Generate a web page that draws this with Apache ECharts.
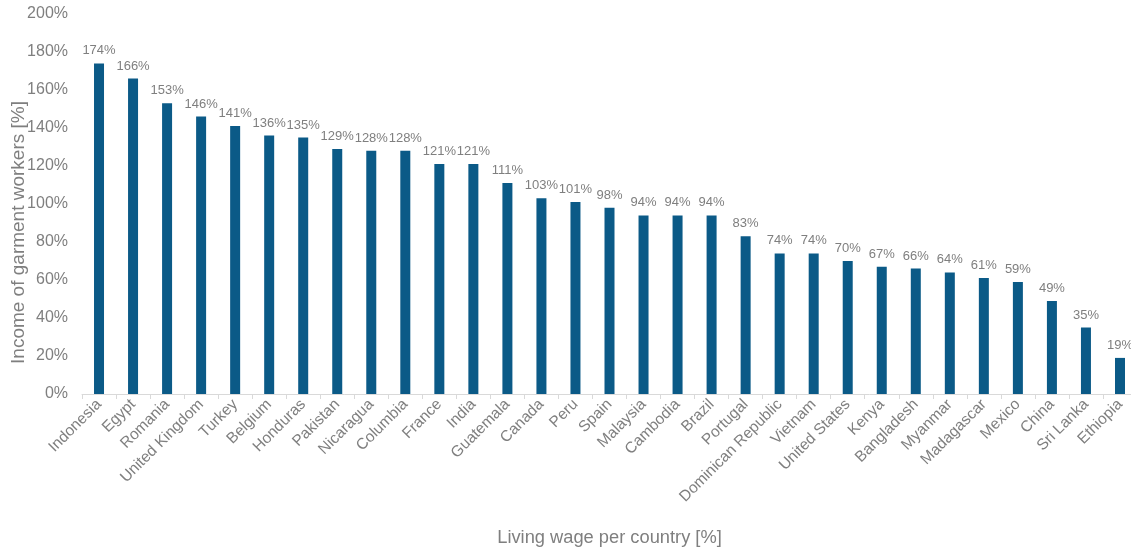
<!DOCTYPE html>
<html>
<head>
<meta charset="utf-8">
<script src="https://cdn.jsdelivr.net/npm/echarts@6/dist/echarts.min.js"></script>
<style>
  html, body { margin: 0; padding: 0; background: #fff; }
  #chart { width: 1131px; height: 550px; }
</style>
</head>
<body>
<div id="chart"></div>
<script>
// Countries, ordered by share of living wage earned by garment workers
const countries = [
  'Indonesia', 'Egypt', 'Romania', 'United Kingdom', 'Turkey', 'Belgium',
  'Honduras', 'Pakistan', 'Nicaragua', 'Columbia', 'France', 'India',
  'Guatemala', 'Canada', 'Peru', 'Spain', 'Malaysia', 'Cambodia', 'Brazil',
  'Portugal', 'Dominican Republic', 'Vietnam', 'United States', 'Kenya',
  'Bangladesh', 'Myanmar', 'Madagascar', 'Mexico', 'China', 'Sri Lanka', 'Ethiopia'
];

// Income of garment workers as % of the living wage
const incomePct = [
  174, 166, 153, 146, 141, 136, 135, 129, 128, 128, 121, 121, 111, 103, 101,
  98, 94, 94, 94, 83, 74, 74, 70, 67, 66, 64, 61, 59, 49, 35, 19
];

const yAxisName = 'Income of garment workers [%]';
const xAxisName = 'Living wage per country [%]';

const chart = echarts.init(document.getElementById('chart'), null, { renderer: 'canvas' });
const grey = '#7f7f7f';
const font = 'Liberation Sans, Arial, sans-serif';

chart.setOption({
  animation: false,
  grid: {
    left: 82, top: 14, width: 1055, height: 380,
    containLabel: false,
    outerBoundsMode: 'none'
  },
  xAxis: {
    type: 'category',
    data: countries,
    name: xAxisName,
    nameLocation: 'middle',
    nameGap: 135,
    nameTextStyle: { color: grey, fontSize: 18.3, fontFamily: font },
    axisLine: { lineStyle: { color: '#d9d9d9', width: 1 } },
    axisTick: { show: true, alignWithLabel: false, length: 5, lineStyle: { color: '#d9d9d9' } },
    axisLabel: {
      interval: 0,
      rotate: 45,
      color: grey,
      fontSize: 15.5,
      fontFamily: font,
      margin: 8
    }
  },
  yAxis: {
    type: 'value',
    min: 0,
    max: 200,
    interval: 20,
    name: yAxisName,
    nameLocation: 'middle',
    nameGap: 54,
    nameMoveOverlap: false,
    nameTextStyle: {
      color: grey, fontSize: 19, fontFamily: font,
      padding: [0, 57, 0, 0]
    },
    splitLine: { show: false },
    axisLine: { show: false },
    axisTick: { show: false },
    axisLabel: {
      color: grey,
      fontSize: 16,
      fontFamily: font,
      margin: 14,
      formatter: v => v + '%'
    }
  },
  series: [{
    type: 'bar',
    data: incomePct,
    barWidth: 10,
    itemStyle: { color: '#0b5a87' },
    label: {
      show: true,
      position: 'top',
      distance: 6,
      color: grey,
      fontSize: 13,
      fontFamily: font,
      formatter: p => p.value + '%'
    }
  }]
});
</script>
</body>
</html>
